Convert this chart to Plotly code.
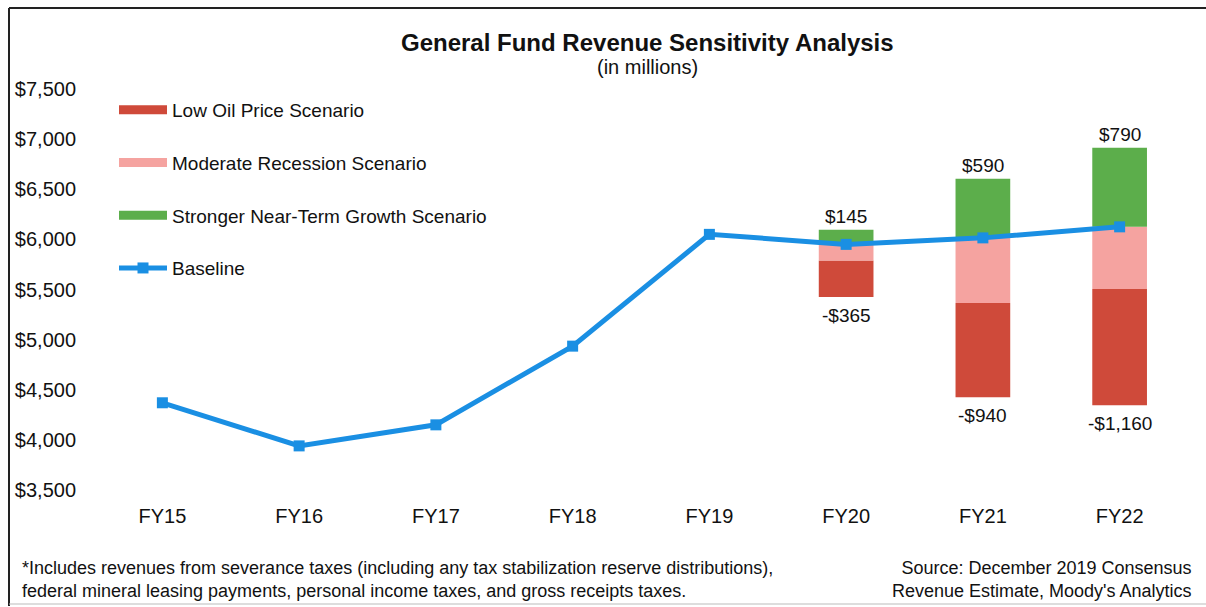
import plotly.graph_objects as go

years = ["FY15", "FY16", "FY17", "FY18", "FY19", "FY20", "FY21", "FY22"]
baseline = [4370, 3940, 4150, 4935, 6050, 5950, 6015, 6125]

scen_years = ["FY20", "FY21", "FY22"]
scen_baseline = [5950, 6015, 6125]
growth_up = [145, 590, 790]          # Stronger Near-Term Growth (above baseline)
recession_down = [160, 650, 620]     # Moderate Recession (below baseline)
low_oil_down = [365, 940, 1160]      # Low Oil Price (additional drop)

y_ticks = [3500, 4000, 4500, 5000, 5500, 6000, 6500, 7000, 7500]

FONT = "Liberation Sans, Arial, sans-serif"
RED = "#cf4a3a"
PINK = "#f5a3a0"
GREEN = "#5cae4b"
BLUE = "#1a8fe3"

rec_base = [b - r for b, r in zip(scen_baseline, recession_down)]
oil_base = [rb - o for rb, o in zip(rec_base, low_oil_down)]
growth_top = [b + g for b, g in zip(scen_baseline, growth_up)]

fig = go.Figure()
# bars (legend shown through wide swatch entries below)
fig.add_trace(go.Bar(x=scen_years, y=low_oil_down, base=oil_base, width=0.4,
                     marker=dict(color=RED, line=dict(width=0)),
                     name="Low Oil Price Scenario", legendgroup="a", showlegend=False))
fig.add_trace(go.Bar(x=scen_years, y=recession_down, base=rec_base, width=0.4,
                     marker=dict(color=PINK, line=dict(width=0)),
                     name="Moderate Recession Scenario", legendgroup="b", showlegend=False))
fig.add_trace(go.Bar(x=scen_years, y=growth_up, base=scen_baseline, width=0.4,
                     marker=dict(color=GREEN, line=dict(width=0)),
                     name="Stronger Near-Term Growth Scenario", legendgroup="c", showlegend=False))

# legend entries with wide bar-like swatches
for nm, col, grp in [("Low Oil Price Scenario", RED, "a"),
                     ("Moderate Recession Scenario", PINK, "b"),
                     ("Stronger Near-Term Growth Scenario", GREEN, "c")]:
    fig.add_trace(go.Scatter(x=[None], y=[None], mode="lines",
                             line=dict(color=col, width=9),
                             name=nm, legendgroup=grp, showlegend=True))

fig.add_trace(go.Scatter(x=years, y=baseline, mode="lines+markers",
                         line=dict(color=BLUE, width=5),
                         marker=dict(symbol="square", size=11, color=BLUE),
                         name="Baseline", legendgroup="d"))

L, R, T, B = 94, 18, 89, 117
W, H = 1206, 607
pw, ph = W - L - R, H - T - B


def px(x):
    return (x - L) / pw


def py(y):
    return (H - B - y) / ph


fig.update_layout(
    width=W, height=H,
    margin=dict(l=L, r=R, t=T, b=B),
    paper_bgcolor="white", plot_bgcolor="white",
    barmode="overlay",
    font=dict(family=FONT, size=19, color="#111"),
    showlegend=True,
    legend=dict(x=px(114), y=py(91), xanchor="left", yanchor="top",
                bgcolor="rgba(0,0,0,0)", font=dict(size=19, color="#111"),
                tracegroupgap=25, itemwidth=48, traceorder="grouped"),
    xaxis=dict(categoryorder="array", categoryarray=years, range=[-0.5, 7.5],
               showgrid=False, showline=False, zeroline=False, ticks="",
               ticklabelstandoff=12, tickfont=dict(size=20), fixedrange=True,
               automargin=False),
    yaxis=dict(range=[3500, 7500], tickvals=y_ticks,
               ticktext=[f"${v:,}" for v in y_ticks], showgrid=False,
               showline=False, zeroline=False, ticks="", ticklabelstandoff=17,
               tickfont=dict(size=20), fixedrange=True, automargin=False),
)

# value labels
for yr, top, g in zip(scen_years, growth_top, growth_up):
    fig.add_annotation(x=yr, y=top, text=f"${g:,}", showarrow=False,
                       xanchor="center", yanchor="bottom", yshift=1,
                       font=dict(size=19, color="#111"))
for yr, bot, o in zip(scen_years, oil_base, low_oil_down):
    fig.add_annotation(x=yr, y=bot, text=f"-${o:,}", showarrow=False,
                       xanchor="center", yanchor="top", yshift=-6,
                       font=dict(size=19, color="#111"))

fig.add_annotation(text="<b>General Fund Revenue Sensitivity Analysis</b>",
                   x=px(647), y=py(42), xref="paper", yref="paper",
                   showarrow=False, font=dict(size=24, color="#111"),
                   xanchor="center", yanchor="middle")
fig.add_annotation(text="(in millions)", x=px(647), y=py(67),
                   xref="paper", yref="paper", showarrow=False,
                   font=dict(size=20, color="#111"), xanchor="center", yanchor="middle")
fig.add_annotation(text="*Includes revenues from severance taxes (including any tax stabilization reserve distributions),<br>"
                        "federal mineral leasing payments, personal income taxes, and gross receipts taxes.",
                   x=px(20), y=py(556), xref="paper", yref="paper", showarrow=False,
                   align="left", xanchor="left", yanchor="top",
                   font=dict(size=18, color="#111"))
fig.add_annotation(text="Source: December 2019 Consensus<br>Revenue Estimate, Moody's Analytics",
                   x=px(1194), y=py(556), xref="paper", yref="paper", showarrow=False,
                   align="right", xanchor="right", yanchor="top",
                   font=dict(size=18, color="#111"))

# frame around the chart
fig.add_shape(type="line", xref="paper", yref="paper", x0=px(9), x1=px(1206),
              y0=py(8), y1=py(8), line=dict(color="#222", width=2))
fig.add_shape(type="line", xref="paper", yref="paper", x0=px(9), x1=px(9),
              y0=py(8), y1=py(606), line=dict(color="#222", width=2))
fig.add_shape(type="line", xref="paper", yref="paper", x0=px(9), x1=px(1206),
              y0=py(604), y1=py(604), line=dict(color="#bbb", width=1))

fig.write_html("out.html")
